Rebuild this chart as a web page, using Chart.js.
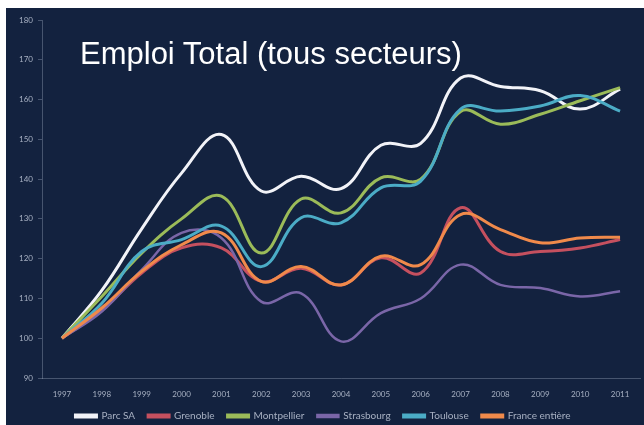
<!DOCTYPE html>
<html>
<head>
<meta charset="utf-8">
<script src="https://cdn.jsdelivr.net/npm/chart.js@4/dist/chart.umd.min.js"></script>
<style>
html, body { margin: 0; padding: 0; background: #fff; }
#wrap { position: absolute; left: 6px; top: 8px; width: 638px; height: 417px; background: #13223f; }
#title { position: absolute; left: 74px; top: 28px; color: #fff; font: 31px "Liberation Sans", Arial, sans-serif; white-space: nowrap; z-index: 2; }
canvas { position: absolute; left: 0; top: 0; }
</style>
</head>
<body>
<div id="wrap">
  <div id="title">Emploi Total (tous secteurs)</div>
  <canvas id="c" width="638" height="417"></canvas>
</div>
<script>
// données (base 100 en 1997)
const years = ['1997','1998','1999','2000','2001','2002','2003','2004','2005','2006','2007','2008','2009','2010','2011'];
const parcSA      = [100, 112, 127.5, 141.5, 151.2, 137, 140.7, 137.6, 148.5, 149, 165.4, 163.3, 162.2, 157.6, 162.6];
const grenoble    = [100, 107, 116.4, 122.7, 122.7, 114.3, 117.6, 113.4, 120.2, 116.4, 132.8, 121.8, 121.8, 122.7, 124.8];
const montpellier = [100, 110.5, 121.4, 130, 135.7, 121.4, 135, 131.5, 140.3, 140, 157, 153.8, 156.3, 159.7, 163];
const strasbourg  = [100, 106.7, 117.2, 126.5, 125.2, 109.2, 111.3, 99.2, 106.3, 110, 118.5, 113.4, 112.6, 110.5, 111.8];
const toulouse    = [100, 108.8, 121.8, 124.8, 128.2, 118, 130.3, 129, 137.8, 139.5, 157.6, 157.1, 158.4, 161, 157.1];
const france      = [100, 107.6, 116.8, 123.5, 126.5, 114.3, 118, 113.4, 120.6, 118.5, 131.1, 127.3, 124, 125.2, 125.4];
const yTicks = [90, 100, 110, 120, 130, 140, 150, 160, 170, 180];

const series = [
  ['Parc SA', parcSA, '#f2f3f8', 3],
  ['Grenoble', grenoble, '#c5505f', 3],
  ['Montpellier', montpellier, '#9bbb59', 3],
  ['Strasbourg', strasbourg, '#7a66a8', 2.5],
  ['Toulouse', toulouse, '#4bacc6', 3],
  ['France entière', france, '#f08a4b', 3]
];

const tickColor = '#a7b0c2';
const font = { family: 'Lato, "Open Sans", sans-serif', size: 8 };

// hauteur fixe pour la légende (espacement horizontal plus large)
const legendHeight = {
  id: 'legendHeight',
  beforeInit(chart) {
    const lg = chart.legend;
    const fit = lg.fit;
    lg.fit = function () { fit.call(this); this.height = 27; };
  }
};

new Chart(document.getElementById('c'), {
  type: 'line',
  data: {
    labels: years,
    datasets: series.map((s, i) => ({
      label: s[0],
      data: s[1],
      borderColor: s[2],
      backgroundColor: s[2],
      borderWidth: s[3],
      tension: 0.4,
      pointRadius: 0,
      fill: false,
      order: series.length - i
    }))
  },
  options: {
    responsive: false,
    animation: false,
    layout: { padding: { top: 12, right: 4, left: 0, bottom: 0 } },
    plugins: {
      title: { display: false },
      tooltip: { enabled: false },
      legend: {
        position: 'bottom',
        labels: {
          color: tickColor,
          font: { family: font.family, size: 10 },
          boxWidth: 21,
          boxHeight: 2,
          padding: 13,
          sort: (a, b) => a.datasetIndex - b.datasetIndex
        }
      }
    },
    scales: {
      x: {
        offset: true,
        grid: { display: false, drawTicks: false },
        border: { display: true, color: 'rgba(170,180,200,0.35)', width: 1, dash: [2, 2] },
        ticks: { color: tickColor, font: font, padding: 12, maxRotation: 0 },
        afterFit: (s) => { s.height = 20; }
      },
      y: {
        min: 90,
        max: 180,
        afterBuildTicks: (s) => { s.ticks = yTicks.map(v => ({ value: v })); },
        grid: { drawOnChartArea: false, color: 'rgba(170,180,200,0.35)', tickLength: 4 },
        border: { display: true, color: 'rgba(170,180,200,0.35)', width: 1 },
        ticks: { color: tickColor, font: font, padding: 5 },
        afterFit: (s) => { s.width = 36; }
      }
    }
  },
  plugins: [legendHeight]
});
</script>
</body>
</html>
